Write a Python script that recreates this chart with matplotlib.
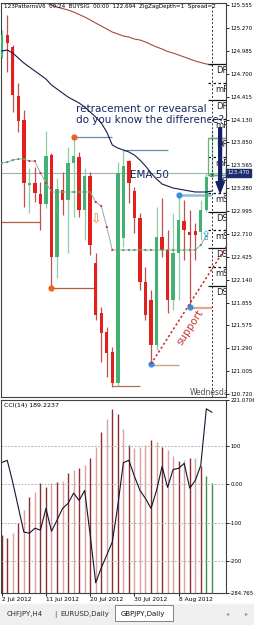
import matplotlib
matplotlib.use('Agg')
import matplotlib.pyplot as plt
from matplotlib.patches import Rectangle
import numpy as np

# GBPJPY daily, 2 Jul - 15 Aug 2012 (broker with sunday bars)
opens = [124.909, 125.182, 125.033, 124.424, 124.126, 123.318, 123.343, 123.206, 123.081, 123.690,
         122.423, 123.255, 123.131, 123.591, 123.666, 123.007, 123.430, 122.348, 121.727, 121.490,
         121.242, 120.857, 122.659, 123.616, 123.243, 122.907, 122.112, 121.888, 121.329, 122.671,
         122.510, 121.888, 122.472, 122.870, 122.733, 122.746, 122.733, 123.007, 123.417]
highs = [125.244, 125.431, 125.058, 124.585, 124.250, 123.529, 123.541, 123.355, 123.991, 123.715,
         123.405, 123.479, 123.790, 123.914, 123.728, 123.529, 123.479, 122.472, 121.801, 121.552,
         121.304, 123.604, 123.753, 123.628, 123.293, 122.970, 122.298, 122.012, 123.044, 123.156,
         122.758, 122.970, 123.206, 123.131, 123.007, 122.846, 123.131, 123.467, 123.996]
lows = [124.896, 124.722, 124.225, 123.976, 123.044, 122.970, 123.106, 122.758, 123.032, 122.050,
        122.162, 122.945, 122.472, 122.920, 122.920, 122.634, 122.447, 121.640, 121.117, 120.931,
        120.807, 120.819, 122.547, 123.094, 122.721, 122.012, 121.640, 121.093, 121.267, 122.423,
        121.727, 121.764, 121.888, 122.385, 121.801, 122.385, 122.634, 122.982, 123.417]
closes = [125.182, 125.083, 124.436, 124.113, 123.343, 123.343, 123.218, 123.081, 123.678, 122.423,
          123.268, 123.131, 123.591, 123.678, 123.007, 123.430, 122.572, 121.702, 121.478, 121.229,
          120.857, 123.467, 123.554, 123.343, 122.907, 122.112, 121.702, 121.329, 122.671, 122.510,
          121.888, 122.472, 122.883, 122.758, 122.696, 122.696, 123.007, 123.417, 123.467]

# slow MA (red), starts at bar 8
ma_slow_start = 8
ma_slow = [125.580, 125.555, 125.530, 125.511, 125.493, 125.468, 125.437, 125.406, 125.369, 125.331,
           125.294, 125.257, 125.219, 125.195, 125.170, 125.157, 125.132, 125.120, 125.095, 125.064,
           125.033, 125.008, 124.977, 124.958, 124.933, 124.909, 124.884, 124.859, 124.840, 124.822,
           124.809]
ema50 = [124.983, 124.996, 124.958, 124.896, 124.834, 124.784, 124.735, 124.685, 124.635, 124.561,
         124.511, 124.461, 124.411, 124.374, 124.337, 124.287, 124.225, 124.163, 124.088, 123.976,
         123.815, 123.777, 123.753, 123.728, 123.690, 123.628, 123.554, 123.467, 123.392, 123.330,
         123.305, 123.280, 123.268, 123.255, 123.243, 123.231, 123.231, 123.231, 123.243]
trail = [123.591, 123.603, 123.628, 123.641, 123.641, 123.616, 123.616, 123.467, 123.343, 123.231,
         123.231, 123.231, 123.231, 123.231, 123.231, 123.231, 123.231, 123.106, 123.057, 122.796,
         122.510, 122.510, 122.510, 122.510, 122.510, 122.510, 122.510, 122.510, 122.510, 122.510,
         122.510, 122.510, 122.510, 122.510, 122.510, 122.510, 122.572, 122.684]
trail_dn = "gggggrrrrrgggggggrrrrggggggggggggggggg"

cci = [57, 63, 5, -60, -125, -128, -115, -120, -63, -123, -94, -63, -50, -23, -42, -16, -133, -258,
       -219, -185, -151, -55, 57, 63, 21, -16, -37, -63, -16, 47, -8, 39, 42, 55, -10, 10, 50, 198, 189]
hist = [-133, -141, -128, -102, -68, -34, -21, 3, -8, 3, 5, 8, 31, 37, 44, 52, 70, 99, 136, 170,
        198, 185, 146, 104, 94, 97, 102, 115, 112, 99, 89, 73, 60, 63, 68, 68, 47, 21, 3]
hist_kind = "ddpdpdpddpdpdpdpdpdpddpdpppdpdppdpdpdgg"

price_ticks = [125.555, 125.270, 124.985, 124.700, 124.415, 124.130, 123.850, 123.565, 123.280,
               122.995, 122.710, 122.425, 122.140, 121.855, 121.575, 121.290, 121.005, 120.720]
bid = 123.470
cci_ticks = [221.0706, 100, 0, -100, -200, -284.765]
cci_tick_labels = ['221.0706', '100', '0.00', '-100', '-200', '-284.765']
date_idx = [0, 8, 16, 24, 32]
date_labels = ['2 Jul 2012', '11 Jul 2012', '20 Jul 2012', '30 Jul 2012', '8 Aug 2012']

level_prices = [124.822, 124.585, 124.374, 124.138, 123.902, 123.666, 123.442, 123.218, 122.982,
                122.758, 122.535, 122.298, 122.062]
level_names = ['DR3', 'mR3', 'DR2', 'mR2', 'DR1', 'mR1', 'DR0', 'mS1', 'DS1', 'mS2', 'DS2', 'mS3', 'DS3']

header = "123PatternsV6  09:24  BUYSIG  00:00  122.694  ZigZagDepth=1  Spread=2"

W, H = 254, 625
def fbox(x0, y0, x1, y1):
    return [x0 / W, 1 - y1 / H, (x1 - x0) / W, (y1 - y0) / H]

fig = plt.figure(figsize=(2.54, 6.25), dpi=100)
fig.patch.set_facecolor('white')
ax = fig.add_axes(fbox(1, 3, 226, 397))
cx = fig.add_axes(fbox(1, 400, 226, 593))

xmin, xmax = -0.13, 40.56
idx = np.arange(len(opens))
o, h, l, c = map(np.array, (opens, highs, lows, closes))
up = c >= o

# candles
wick_cols = ['#8fcfa6' if u else '#c05050' for u in up]
body_cols = ['#45b074' if u else '#e3211c' for u in up]
ax.vlines(idx, l, h, colors=wick_cols, lw=0.9, zorder=2)
body_h = np.maximum(np.abs(c - o), 0.02)
ax.bar(idx, body_h, bottom=np.minimum(o, c), width=0.62, color=body_cols, lw=0, zorder=3)

# moving averages
ax.plot(np.arange(ma_slow_start, ma_slow_start + len(ma_slow)), ma_slow, color='#a84848', lw=0.8, zorder=4)
ax.plot(idx, ema50, color='#1a1a48', lw=0.8, zorder=4)
tx = np.arange(len(trail))
ax.plot(tx, trail, color='#a0a8a0', lw=0.7, zorder=4)
ax.scatter(tx, trail, s=2.5, c=['#d03030' if k == 'r' else '#40a060' for k in trail_dn], lw=0, zorder=5)

# bid line
ax.axhline(bid, color='#9db3b0', lw=0.8, zorder=1)

# zigzag points and their levels
ax.hlines(122.858, -0.13, 7, color='#b0603a', lw=0.9)
ax.hlines(122.037, 9, 17, color='#b0603a', lw=0.9)
ax.hlines(123.914, 13, 20, color='#5f8fa8', lw=0.9)
ax.hlines(123.753, 22, 30, color='#5f8fa8', lw=0.9)
ax.hlines(123.193, 32, 37.8, color='#8cc0d8', lw=1.8)
ax.hlines(121.080, 27, 32, color='#d0a080', lw=1.0)
ax.hlines(121.790, 34, 38, color='#e3a888', lw=1.6)
ax.hlines(120.819, 20, 25, color='#b07050', lw=0.9)
ax.scatter([9, 13], [122.037, 123.914], s=12, color='#f06020', zorder=6)
ax.scatter([27, 32, 34], [121.093, 123.193, 121.801], s=12, color='#3a8ee0', zorder=6)

# pivot levels at the right edge
for p, name in zip(level_prices, level_names):
    ls = '-' if name.startswith('D') else (0, (2, 2))
    ax.hlines(p, 37.3, xmax, color='#101010', lw=0.9, ls=ls, zorder=6)
    ax.text(38.7, p - 0.02, name, fontsize=6, va='top', ha='left', color='#202020', clip_on=True, zorder=6)
ax.add_patch(Rectangle((37.3, 123.442), 3.3, 0.46, fill=False, edgecolor='#6ab07a', lw=0.9, zorder=6))
ax.axvline(38.05, color='#303030', lw=0.7, ls=(0, (2, 2)), zorder=6)

# support line
ax.plot([27, 40.6], [121.093, 122.55], color='#cc2a2a', lw=1.1, ls=(0, (1.5, 1.5)), zorder=6)
ax.text(34.1, 121.55, 'support', rotation=57, color='#cc3333', fontsize=7.5,
        ha='center', va='center', rotation_mode='anchor', zorder=7)

# annotations
ax.text(13.4, 124.324, 'retracement or revearsal\ndo you know the difference?', color='#1b2560',
        fontsize=7.5, va='top', ha='left', linespacing=1.15, zorder=7)
ax.text(23.2, 123.442, 'EMA 50', color='#1b2560', fontsize=7.5, va='center', ha='left', zorder=7)
ax.annotate('', xy=(39.5, 123.22), xytext=(39.5, 124.03),
            arrowprops=dict(facecolor='#14206a', edgecolor='#14206a', width=2.0, headwidth=6,
                            headlength=8), zorder=8)
ax.text(17, 122.883, '\u21e9', color='#f07830', fontsize=9, ha='center', va='center', zorder=7)
ax.text(37, 122.684, '\u21e7', color='#3aa0d0', fontsize=9, ha='center', va='center', zorder=7)
ax.text(34.05, 120.745, 'Wednesday', color='#505050', fontsize=5.5, va='center', ha='left', clip_on=True)
ax.text(0.012, 0.997, header, transform=ax.transAxes, fontsize=4.1, va='top', ha='left', zorder=9)

ax.set_xlim(xmin, xmax)
ax.set_ylim(120.683, 125.580)
ax.set_xticks([])
ax.yaxis.tick_right()
ax.set_yticks(price_ticks)
ax.set_yticklabels(['%.3f' % v for v in price_ticks])
ax.tick_params(axis='y', length=2, pad=1, labelsize=3.9, width=0.6)
ax.text(1.006, bid, '%.3f' % bid, transform=ax.get_yaxis_transform(), fontsize=3.9, color='white',
        va='center', ha='left', clip_on=False,
        bbox=dict(boxstyle='square,pad=0.25', fc='#1f2d6e', ec='#1f2d6e'))

# CCI panel
hist_cols = {'d': '#8b2e2e', 'p': '#d9a3a3', 'g': '#3f8f46'}
cx.vlines(idx, -284.765, hist, colors=[hist_cols[k] for k in hist_kind], lw=1.0)
for v in cci_ticks[:-1]:
    cx.axhline(v, color='#a0a0a0', lw=0.6, ls=(0, (2, 2)))
cx.plot(idx, cci, color='#141430', lw=0.8)
cx.text(0.015, 0.985, 'CCI(14) 189.2237', transform=cx.transAxes, fontsize=4.5, va='top', ha='left')
cx.set_xlim(xmin, xmax)
cx.set_ylim(-284.765, 221.0706)
cx.yaxis.tick_right()
cx.set_yticks(cci_ticks)
cx.set_yticklabels(cci_tick_labels)
cx.set_xticks(date_idx)
cx.set_xticklabels(date_labels)
for t in cx.get_xticklabels():
    t.set_ha('left')
cx.tick_params(axis='both', length=2, pad=1, labelsize=3.9, width=0.6)
cx.tick_params(axis='x', labelsize=4.2)

for a in (ax, cx):
    for s in a.spines.values():
        s.set_color('#404040')
        s.set_linewidth(0.8)

# tab strip
fig.patches.append(Rectangle((0, 0), 1, 21 / H, transform=fig.transFigure, color='#efefef', zorder=0))
fig.patches.append(Rectangle((115 / W, 4 / H), 58 / W, 16 / H, transform=fig.transFigure,
                             facecolor='white', edgecolor='#707070', lw=0.6, zorder=1))
ty = 1 - 614 / H
fig.text(7 / W, ty, 'CHFJPY,H4', fontsize=5, color='#303030', va='center')
fig.text(54 / W, ty, '|', fontsize=5, color='#505050', va='center')
fig.text(60 / W, ty, 'EURUSD,Daily', fontsize=5, color='#303030', va='center')
fig.text(121 / W, ty, 'GBPJPY,Daily', fontsize=5, color='#101010', va='center')
fig.text(226 / W, ty, '\u25c2', fontsize=4.5, color='#909090', va='center')
fig.text(245 / W, ty, '\u25b8', fontsize=4.5, color='#909090', va='center')

fig.savefig('out.png', dpi=100)
